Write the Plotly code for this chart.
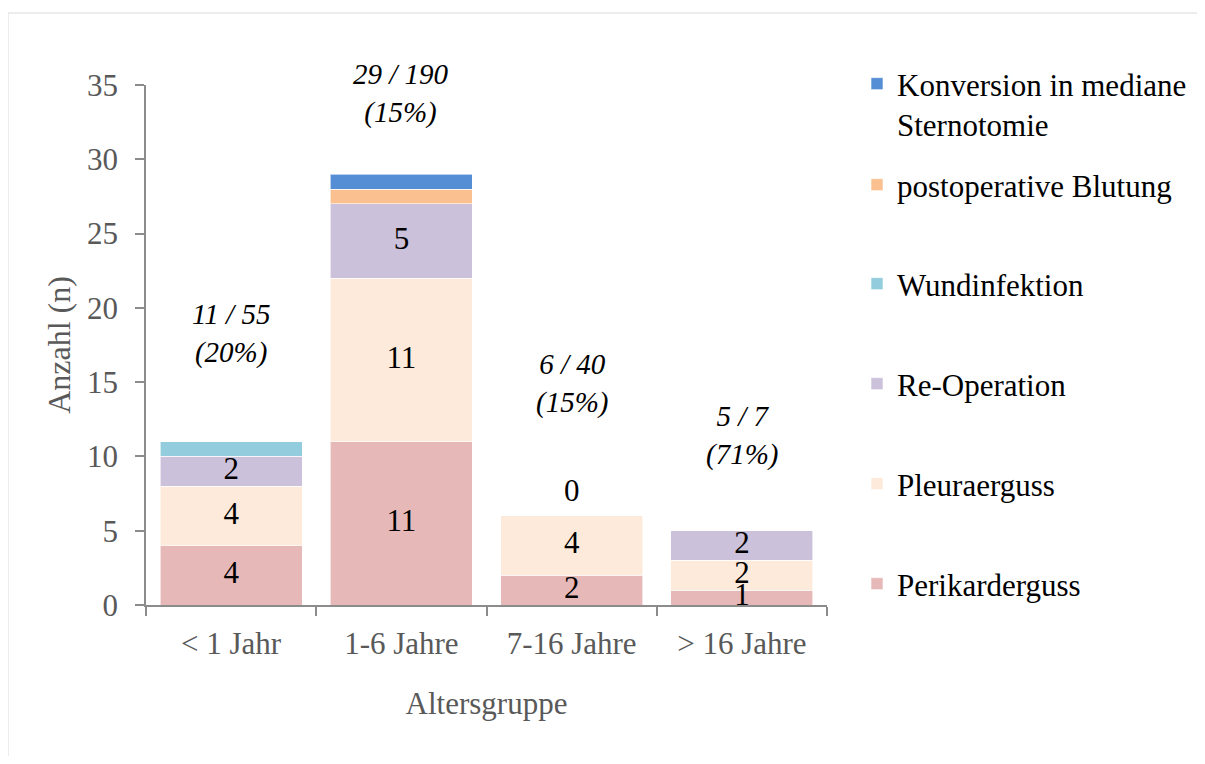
import plotly.graph_objects as go
import numpy as np

categories = ["< 1 Jahr", "1-6 Jahre", "7-16 Jahre", "> 16 Jahre"]
perikarderguss = [4, 11, 2, 1]
pleuraerguss = [4, 11, 4, 2]
re_operation = [2, 5, 0, 2]
wundinfektion = [1, 0, 0, 0]
postop_blutung = [0, 1, 0, 0]
konversion = [0, 1, 0, 0]
group_totals = ["11 / 55<br>(20%)", "29 / 190<br>(15%)", "6 / 40<br>(15%)", "5 / 7<br>(71%)"]

series = [
    ("Perikarderguss", perikarderguss, "#E6B9B8"),
    ("Pleuraerguss", pleuraerguss, "#FDEADA"),
    ("Re-Operation", re_operation, "#CCC1DA"),
    ("Wundinfektion", wundinfektion, "#93CDDD"),
    ("postoperative Blutung", postop_blutung, "#FAC090"),
    ("Konversion in mediane<br>Sternotomie", konversion, "#558ED5"),
]
labelled = 3  # first three series carry data labels

FONT = "Liberation Serif, Times New Roman, serif"
OFF = 8  # page body margin
W, H = 1205 - 2 * OFF, 764 - 2 * OFF
# plot area in screenshot pixels
X0, X1, Y0, Y1 = 146, 827, 85, 605
ML, MT = X0 - OFF, Y0 - OFF
PW, PH = X1 - X0, Y1 - Y0
MR, MB = W - ML - PW, H - MT - PH

def px_to_paper_x(px):
    return (px - X0) / PW

def px_to_paper_y(py):
    return (Y1 - py) / PH

fig = go.Figure()
legend_centers = [584, 484, 384, 284, 185, 57]
for i, (name, vals, col) in enumerate(series):
    lg = "legend" if i == 0 else f"legend{i+1}"
    fig.add_trace(go.Bar(
        x=categories, y=vals, name=name, marker_color=col,
        marker_line=dict(color="rgba(255,255,255,0.6)", width=1),
        legend=lg,
    ))

# data labels
cum = np.zeros(len(categories))
lx, ly, lt = [], [], []
for i, (name, vals, col) in enumerate(series):
    v = np.array(vals, dtype=float)
    if i < labelled:
        for j, c in enumerate(categories):
            if v[j] > 0:
                lx.append(c); ly.append(cum[j] + v[j] / 2); lt.append(str(int(v[j])))
            else:
                lx.append(c); ly.append(cum[j] + 1.5); lt.append("0")
    cum += v
fig.add_trace(go.Scatter(x=lx, y=ly, text=lt, mode="text", showlegend=False,
                         textfont=dict(family=FONT, size=31, color="#000000"),
                         cliponaxis=False, hoverinfo="skip"))

# italic group totals
total_y = [18.3, 34.4, 14.9, 11.4]
for c, t, yy in zip(categories, group_totals, total_y):
    fig.add_annotation(x=c, y=yy, text=f"<i>{t}</i>", showarrow=False,
                       font=dict(family=FONT, size=29, color="#000000"),
                       xanchor="center", yanchor="middle")

layout_legends = {}
for i in range(len(series)):
    key = "legend" if i == 0 else f"legend{i+1}"
    top = (i == len(series) - 1)
    layout_legends[key] = dict(
        x=px_to_paper_x(857), xanchor="left",
        y=px_to_paper_y(legend_centers[i]),
        yanchor="top" if top else "middle",
        valign="top",
        font=dict(family=FONT, size=31, color="#000000"),
        bgcolor="rgba(0,0,0,0)", itemwidth=30,
    )

fig.update_layout(
    width=W, height=H,
    margin=dict(l=ML, r=MR, t=MT, b=MB, autoexpand=False),
    barmode="stack", bargap=0.165,
    plot_bgcolor="white", paper_bgcolor="white",
    font=dict(family=FONT, color="#595959"),
    xaxis=dict(
        type="category", range=[-0.5, 3.5],
        showline=True, linecolor="#8C8C8C", linewidth=1.5,
        ticks="outside", tickson="boundaries", ticklen=9, tickcolor="#8C8C8C", tickwidth=1.5,
        tickfont=dict(family=FONT, size=31, color="#595959"),
        ticklabelstandoff=10,
        title=dict(text="Altersgruppe", font=dict(family=FONT, size=31, color="#595959"), standoff=32),
        showgrid=False,
    ),
    yaxis=dict(
        range=[0, 35], dtick=5,
        showline=True, linecolor="#8C8C8C", linewidth=1.5,
        ticks="outside", ticklen=9, tickcolor="#8C8C8C", tickwidth=1.5,
        tickfont=dict(family=FONT, size=31, color="#595959"),
        ticklabelstandoff=11,
        title=dict(text="Anzahl (n)", font=dict(family=FONT, size=32, color="#595959"), standoff=7),
        showgrid=False, zeroline=False,
    ),
    **layout_legends,
)

fig.add_shape(type="rect", xref="paper", yref="paper",
              x0=px_to_paper_x(8), x1=px_to_paper_x(1220),
              y0=px_to_paper_y(780), y1=px_to_paper_y(13),
              line=dict(color="#E6E6E6", width=1.5), fillcolor="rgba(0,0,0,0)", layer="below")

fig.write_html("out.html")
